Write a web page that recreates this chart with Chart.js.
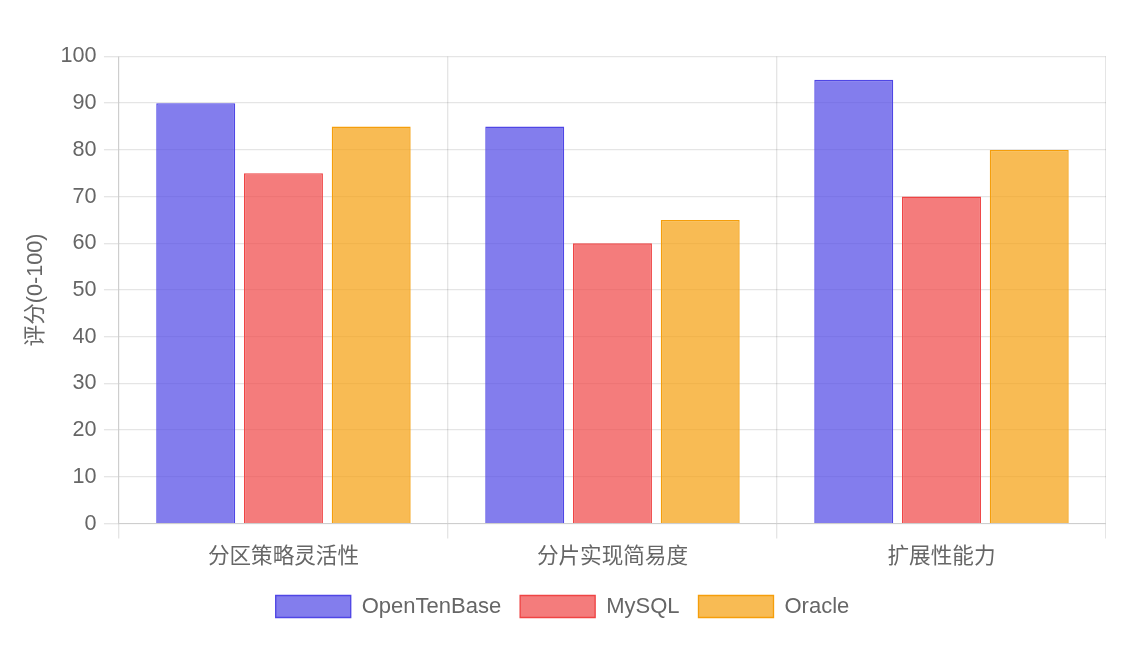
<!DOCTYPE html>
<html>
<head>
<meta charset="utf-8">
<script src="https://cdn.jsdelivr.net/npm/chart.js@4"></script>
<style>
  html, body { margin: 0; padding: 0; background: #fff; }
  .wrap { width: 1125px; height: 653px; box-sizing: border-box; padding: 35.5px 19px 26px 19px; }
</style>
</head>
<body>
<div class="wrap"><canvas id="chart"></canvas></div>
<script>
const categories = ['分区策略灵活性', '分片实现简易度', '扩展性能力'];
const openTenBase = [90, 85, 95];
const mysql = [75, 60, 70];
const oracle = [85, 65, 80];

Chart.defaults.font.family = '"Liberation Sans", Arial, "Noto Sans CJK SC", sans-serif';
Chart.defaults.font.size = 21.6;
Chart.defaults.color = '#666';

new Chart(document.getElementById('chart').getContext('2d'), {
  type: 'bar',
  data: {
    labels: categories,
    datasets: [
      { label: 'OpenTenBase', data: openTenBase, backgroundColor: 'rgba(79, 70, 229, 0.7)', borderColor: 'rgba(79, 70, 229, 1)', borderWidth: 1.35 },
      { label: 'MySQL', data: mysql, backgroundColor: 'rgba(239, 68, 68, 0.7)', borderColor: 'rgba(239, 68, 68, 1)', borderWidth: 1.35 },
      { label: 'Oracle', data: oracle, backgroundColor: 'rgba(245, 158, 11, 0.7)', borderColor: 'rgba(245, 158, 11, 1)', borderWidth: 1.35 }
    ]
  },
  options: {
    responsive: true,
    maintainAspectRatio: false,
    animation: false,
    plugins: {
      legend: { position: 'bottom', labels: { boxWidth: 75, padding: 19, font: { size: 22 } } }
    },
    scales: {
      x: {
        grid: { lineWidth: 1.35, tickLength: 15 },
        ticks: { padding: 6 }
      },
      y: {
        min: 0, max: 100,
        grid: { lineWidth: 1.35, tickLength: 15 },
        ticks: { stepSize: 10, padding: 7.5 },
        title: { display: true, text: '评分(0-100)' }
      }
    }
  }
});
</script>
</body>
</html>
